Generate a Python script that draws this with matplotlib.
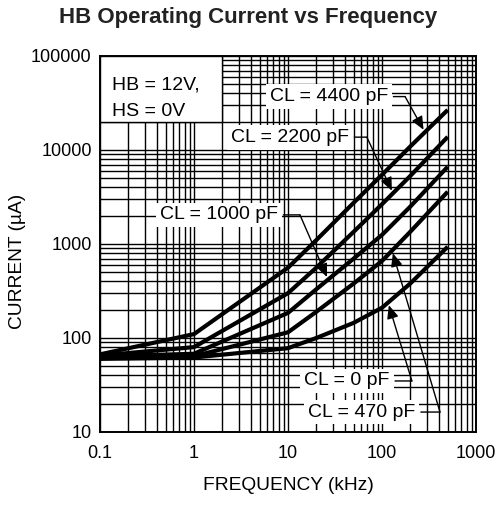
import numpy as np
import matplotlib
matplotlib.use("Agg")
import matplotlib.pyplot as plt
from matplotlib.ticker import LogLocator, NullFormatter, FixedLocator
from matplotlib.patches import Rectangle

plt.rcParams['font.family'] = ['Liberation Sans', 'DejaVu Sans']

# ---- data ----
freq_khz = [0.1, 1, 10, 20, 50, 100, 200, 500]
cl_0pF    = [60, 62, 78, 100, 145, 210, 380, 935]
cl_470pF  = [62, 64, 115, 190, 380, 660, 1350, 3600]
cl_1000pF = [63, 68, 185, 330, 700, 1250, 2500, 6640]
cl_2200pF = [65, 80, 300, 560, 1350, 2650, 5300, 13800]
cl_4400pF = [67, 110, 560, 1100, 2750, 5450, 10900, 26700]

x_ticks = [0.1, 1, 10, 100, 1000]
x_tick_labels = ["0.1", "1", "10", "100", "1000"]
y_ticks = [10, 100, 1000, 10000, 100000]
y_tick_labels = ["10", "100", "1000", "10000", "100000"]

series = [cl_0pF, cl_470pF, cl_1000pF, cl_2200pF, cl_4400pF]

# labels: (text, text position, corner position, arrow-tip frequency, series)
labels = [
    ("CL = 4400 pF", (27.3, 37000), (176, 37000), 286, cl_4400pF),
    ("CL = 2200 pF", (10.5, 13700), (69, 13700), 131, cl_2200pF),
    ("CL = 1000 pF", (1.85, 2040), (13.4, 2040), 26.7, cl_1000pF),
    ("CL = 0 pF", (42.5, 34.9), (208, 34.9), 116, cl_0pF),
    ("CL = 470 pF", (61.2, 16.3), (414, 16.3), 128, cl_470pF),
]

def interp_log(xq, xs, ys):
    return 10 ** np.interp(np.log10(xq), np.log10(xs), np.log10(ys))

fig = plt.figure(figsize=(4.97, 5.16), dpi=100)
ax = fig.add_axes([100 / 497, 84 / 516, 376 / 497, 376 / 516])
ax.set_xscale('log')
ax.set_yscale('log')
ax.set_xlim(0.1, 1000)
ax.set_ylim(10, 100000)

ax.xaxis.set_major_locator(FixedLocator(x_ticks))
ax.set_xticklabels(x_tick_labels)
ax.yaxis.set_major_locator(FixedLocator(y_ticks))
ax.set_yticklabels(y_tick_labels)
for a in (ax.xaxis, ax.yaxis):
    a.set_minor_locator(LogLocator(base=10, subs=np.arange(2, 10)))
    a.set_minor_formatter(NullFormatter())
ax.tick_params(which='both', length=0, labelsize=13, colors='black')
ax.tick_params(axis='x', pad=9)
ax.tick_params(axis='y', pad=6)

ax.grid(True, which='both', color='black', linewidth=1.0, zorder=1)
ax.set_axisbelow(True)
for s in ax.spines.values():
    s.set_linewidth(1.4)
    s.set_color('black')

for ys in series:
    ax.plot(freq_khz, ys, color='black', linewidth=3.0, zorder=3,
            solid_capstyle='butt', solid_joinstyle='round')

# condition box
ax.add_patch(Rectangle((0.1, 20000), 2 - 0.1, 100000 - 20000,
                       facecolor='white', edgecolor='black', linewidth=1.0, zorder=4))
ax.text(0.135, 49000, "HB = 12V,", fontsize=14, va='center', ha='left', zorder=5)
ax.text(0.135, 25500, "HS = 0V", fontsize=14, va='center', ha='left', zorder=5)

for txt, tpos, corner, tipf, ys in labels:
    ax.annotate(txt, xy=corner, xytext=tpos, textcoords='data', fontsize=14,
                ha='center', va='center', zorder=6,
                bbox=dict(boxstyle='square,pad=0.2', facecolor='white', edgecolor='none'),
                arrowprops=dict(arrowstyle='-', color='black', linewidth=1.0,
                                relpos=(1, 0.5), shrinkA=1, shrinkB=0))
    tip = (tipf, interp_log(tipf, freq_khz, ys))
    ax.annotate("", xy=tip, xytext=corner, zorder=6,
                arrowprops=dict(arrowstyle='-|>,head_length=0.8,head_width=0.35',
                                color='black', linewidth=1.0, shrinkA=0, shrinkB=2))

fig.text(0.5, 1 - 17 / 516, "HB Operating Current vs Frequency", fontsize=16,
         fontweight='bold', ha='center', va='center', color='#222222')
fig.text(288 / 497, 1 - 485 / 516, "FREQUENCY (kHz)", fontsize=13.8, ha='center', va='center')
fig.text(18 / 497, 1 - 261 / 516, "CURRENT (\u00b5A)", fontsize=13.8, ha='center', va='center',
         rotation=90)

fig.savefig("out.png", dpi=100)
